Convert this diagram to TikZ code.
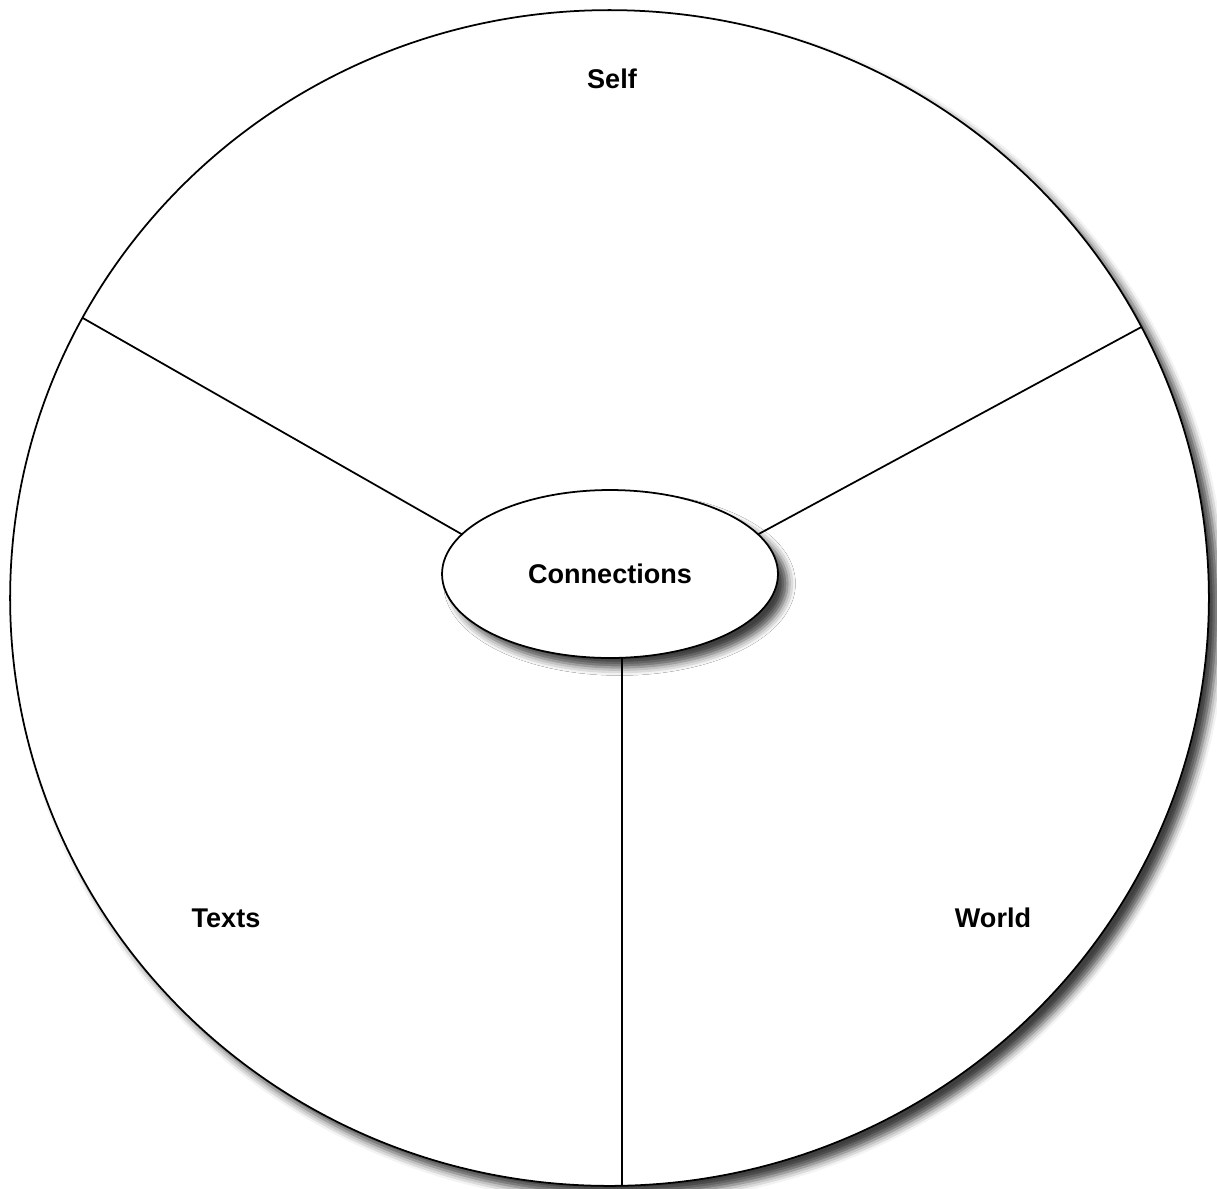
\documentclass[tikz,border=0pt]{standalone}
\usepackage{fontspec}
\setmainfont{Liberation Sans}
\usepackage{tikz}
\usetikzlibrary{positioning,shapes.geometric,shadows.blur}

\begin{document}
\begin{tikzpicture}[
  x=0.02cm, y=-0.02cm,
  ring/.style={draw=black,fill=white,ellipse,line width=1pt,outer sep=0pt,inner sep=0pt,
    blur shadow={shadow xshift=0.19cm,shadow yshift=-0.19cm,shadow blur radius=0.16cm,shadow opacity=75}},
  spoke/.style={draw=black,line width=1pt},
  zone/.style={font=\fontsize{15.4}{18}\selectfont\bfseries}
]
  \useasboundingbox (0,0) rectangle (1217,1188);
  \node[ring,minimum width=23.98cm,minimum height=23.52cm] (outer) at (609.5,598) {};
  \node[ring,zone,minimum width=6.72cm,minimum height=3.36cm] (hub) at (610,574) {Connections};

  \draw[spoke] (hub.165.4) -- (outer.152.4);
  \draw[spoke] (hub.15.3) -- (outer.27.4);
  \draw[spoke] (hub.-82) -- (hub.-82 |- outer.south);

  \node[zone] (self) at (612,79) {Self};
  \node[zone] (texts) at (226,918) {Texts};
  \node[zone] (world) at (993,918) {World};
\end{tikzpicture}
\end{document}
